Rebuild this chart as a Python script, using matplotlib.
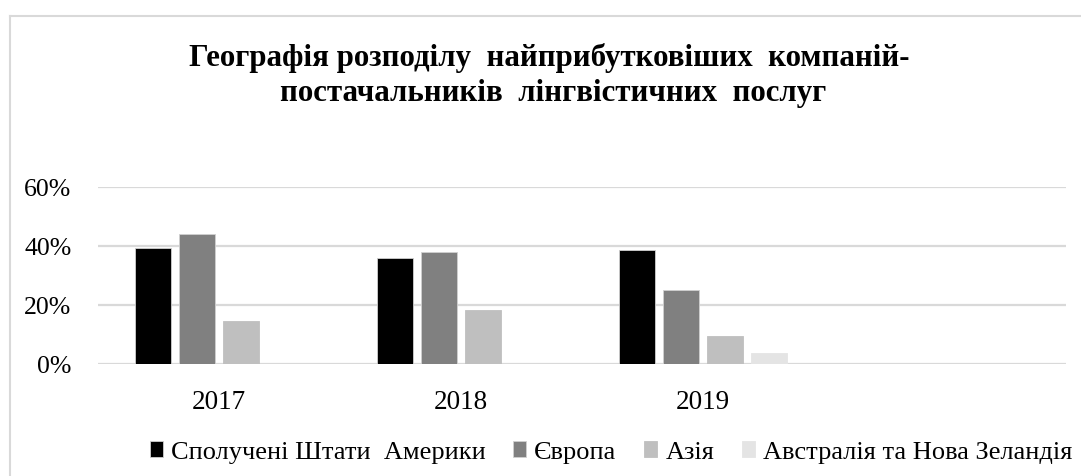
import matplotlib
matplotlib.use("Agg")
import matplotlib.pyplot as plt
from matplotlib.lines import Line2D
import numpy as np

plt.rcParams['font.family'] = ['Liberation Serif', 'DejaVu Serif']

title_lines = ["Географія розподілу  найприбутковіших  компаній-",
               "постачальників  лінгвістичних  послуг"]
categories = ["2017", "2018", "2019", ""]
series_names = ["Сполучені Штати  Америки", "Європа", "Азія", "Австралія та Нова Зеландія"]
usa = [0.392, 0.357, 0.386, 0.0]
europe = [0.439, 0.377, 0.251, 0.0]
asia = [0.144, 0.182, 0.096, 0.0]
aus_nz = [0.0, 0.0, 0.037, 0.0]
colors = ["#000000", "#808080", "#bfbfbf", "#e4e4e4"]
yticks = [0, 0.2, 0.4, 0.6]
ytick_labels = ["0%", "20%", "40%", "60%"]

W, H = 1081, 477
fig = plt.figure(figsize=(W / 100, H / 100), dpi=100)
ax = fig.add_axes([98 / W, (H - 365) / H, (1066 - 98) / W, (365 - 187.5) / H])

x = np.arange(len(categories))
step = 0.182
bw = 0.149
for i, (vals, name, c) in enumerate(zip([usa, europe, asia, aus_nz], series_names, colors)):
    ax.bar(x + (i - 1.5) * step, vals, width=bw, color=c, label=name,
           edgecolor='#d0d0d0' if i < 2 else c, linewidth=0.6, zorder=3)

ax.set_xlim(-0.5, len(categories) - 0.5)
ax.set_ylim(0, 0.6)
ax.set_yticks(yticks)
ax.set_yticklabels(ytick_labels)
ax.set_xticks(x[:3])
ax.set_xticklabels(categories[:3])
ax.yaxis.grid(True, color='#d9d9d9', linewidth=1.6, zorder=0)
for s in ax.spines.values():
    s.set_visible(False)
ax.tick_params(axis='both', length=0)
ax.tick_params(axis='y', labelsize=18.5, pad=19)
ax.tick_params(axis='x', labelsize=19.5, pad=18)

# chart border
fig.add_artist(Line2D([10 / W, 10 / W], [0, (H - 17) / H], color='#d9d9d9', lw=1.5, transform=fig.transFigure))
fig.add_artist(Line2D([10 / W, 1], [(H - 17) / H, (H - 17) / H], color='#d9d9d9', lw=1.5, transform=fig.transFigure))

fig.text(549 / W, 1 - 66.5 / H, title_lines[0], ha='center', va='baseline',
         fontsize=22.2, fontweight='bold')
fig.text(553 / W, 1 - 101 / H, title_lines[1], ha='center', va='baseline',
         fontsize=22.2, fontweight='bold')

leg = fig.legend(loc='center', bbox_to_anchor=(611 / W, 1 - 453 / H), ncol=4,
                 frameon=False, fontsize=19, handlelength=0.5, handleheight=0.55,
                 handletextpad=0.3, columnspacing=1.05, borderaxespad=0, borderpad=0)

fig.savefig("out.png", dpi=100)
